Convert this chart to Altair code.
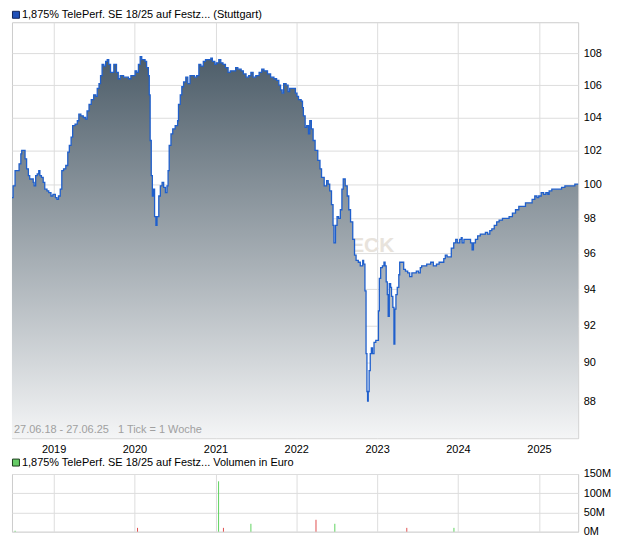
import altair as alt
import pandas as pd
import numpy as np

# ---- data (decimal years, price in %) ----
price_years = [
    2018.486, 2018.500, 2018.524, 2018.552, 2018.573, 2018.594, 2018.606, 2018.626, 2018.646, 2018.667,
    2018.687, 2018.704, 2018.728, 2018.748, 2018.760, 2018.777, 2018.796, 2018.817, 2018.829, 2018.850,
    2018.870, 2018.890, 2018.918, 2018.939, 2018.967, 2018.991, 2019.021, 2019.040, 2019.061, 2019.082,
    2019.101, 2019.122, 2019.150, 2019.174, 2019.195, 2019.216, 2019.235, 2019.265, 2019.293, 2019.313,
    2019.338, 2019.366, 2019.394, 2019.415, 2019.439, 2019.467, 2019.496, 2019.521, 2019.540, 2019.561,
    2019.582, 2019.601, 2019.622, 2019.643, 2019.662, 2019.683, 2019.704, 2019.723, 2019.744, 2019.760,
    2019.777, 2019.801, 2019.826, 2019.845, 2019.866, 2019.899, 2019.927, 2019.955, 2019.988, 2020.009,
    2020.028, 2020.049, 2020.070, 2020.089, 2020.110, 2020.130, 2020.150, 2020.171, 2020.183, 2020.195,
    2020.207, 2020.220, 2020.235, 2020.248, 2020.265, 2020.280, 2020.301, 2020.321, 2020.341, 2020.362,
    2020.382, 2020.402, 2020.415, 2020.430, 2020.451, 2020.472, 2020.504, 2020.533, 2020.545, 2020.565,
    2020.585, 2020.606, 2020.634, 2020.659, 2020.687, 2020.720, 2020.740, 2020.768, 2020.796, 2020.821,
    2020.850, 2020.878, 2020.911, 2020.943, 2020.963, 2020.991, 2021.012, 2021.040, 2021.065, 2021.094,
    2021.122, 2021.155, 2021.183, 2021.223, 2021.248, 2021.277, 2021.317, 2021.345, 2021.378, 2021.411,
    2021.439, 2021.467, 2021.500, 2021.540, 2021.573, 2021.601, 2021.643, 2021.683, 2021.723, 2021.756,
    2021.784, 2021.805, 2021.826, 2021.845, 2021.874, 2021.899, 2021.918, 2021.948, 2021.967, 2021.988,
    2022.009, 2022.028, 2022.061, 2022.077, 2022.089, 2022.110, 2022.130, 2022.150, 2022.167, 2022.187,
    2022.207, 2022.232, 2022.265, 2022.293, 2022.313, 2022.345, 2022.374, 2022.394, 2022.415, 2022.435,
    2022.455, 2022.467, 2022.484, 2022.504, 2022.524, 2022.545, 2022.565, 2022.582, 2022.606, 2022.630,
    2022.650, 2022.671, 2022.699, 2022.720, 2022.740, 2022.768, 2022.793, 2022.821, 2022.833, 2022.850,
    2022.862, 2022.874, 2022.882, 2022.890, 2022.902, 2022.915, 2022.930, 2022.943, 2022.963, 2022.984,
    2023.004, 2023.016, 2023.028, 2023.045, 2023.065, 2023.085, 2023.098, 2023.113, 2023.126, 2023.138,
    2023.150, 2023.167, 2023.179, 2023.195, 2023.207, 2023.220, 2023.232, 2023.248, 2023.268, 2023.280,
    2023.309, 2023.329, 2023.350, 2023.378, 2023.402, 2023.430, 2023.460, 2023.484, 2023.512, 2023.533,
    2023.552, 2023.582, 2023.613, 2023.646, 2023.662, 2023.695, 2023.735, 2023.768, 2023.796, 2023.826,
    2023.845, 2023.866, 2023.899, 2023.918, 2023.948, 2023.972, 2023.991, 2024.021, 2024.040, 2024.052,
    2024.073, 2024.101, 2024.130, 2024.155, 2024.174, 2024.191, 2024.216, 2024.244, 2024.277, 2024.305,
    2024.338, 2024.366, 2024.394, 2024.418, 2024.448, 2024.479, 2024.509, 2024.549, 2024.589, 2024.630,
    2024.671, 2024.711, 2024.752, 2024.793, 2024.833, 2024.874, 2024.915, 2024.948, 2024.976, 2024.996,
    2025.028, 2025.057, 2025.085, 2025.110, 2025.126, 2025.159, 2025.199, 2025.240, 2025.280, 2025.321,
    2025.362, 2025.402, 2025.443, 2025.485,
]
price_values = [
    99.2, 99.9, 100.8, 100.8, 101.2, 101.8, 102.0, 102.0, 101.5, 100.9,
    100.5, 100.3, 100.3, 100.1, 99.9, 100.5, 100.6, 100.8, 100.5, 100.4,
    100.1, 99.7, 99.6, 99.5, 99.3, 99.4, 99.2, 99.1, 99.3, 99.7,
    100.8, 100.9, 101.1, 101.9, 102.3, 102.8, 103.5, 103.6, 103.8, 104.2,
    104.1, 104.0, 103.9, 104.4, 104.8, 105.1, 105.4, 105.3, 105.8, 106.1,
    106.6, 107.3, 107.2, 107.5, 107.6, 107.3, 106.8, 106.8, 107.3, 107.3,
    106.8, 106.4, 106.6, 106.6, 106.5, 106.5, 106.4, 106.6, 106.6, 106.9,
    106.8, 107.3, 107.8, 107.6, 107.6, 107.5, 107.1, 106.6, 105.4, 102.6,
    100.5, 99.3, 99.7, 98.1, 97.6, 98.1, 99.3, 99.9, 100.1, 99.8,
    99.5, 99.9, 100.8, 102.3, 103.0, 103.3, 103.5, 103.8, 104.8, 105.4,
    105.9, 106.2, 106.5, 106.1, 106.6, 106.6, 106.5, 106.6, 107.3, 107.2,
    107.5, 107.6, 107.6, 107.7, 107.5, 107.3, 107.4, 107.6, 107.4, 107.3,
    107.1, 106.8, 106.9, 106.9, 107.1, 107.0, 106.9, 106.7, 106.5, 106.6,
    106.8, 106.5, 106.6, 106.8, 107.0, 106.9, 106.7, 106.5, 106.4, 106.3,
    106.0, 105.7, 105.5, 106.1, 106.0, 105.6, 105.8, 105.8, 105.8, 105.5,
    105.3, 105.1, 105.0, 104.6, 104.1, 103.4, 103.5, 103.0, 103.8, 103.3,
    102.6, 102.0, 101.4, 100.9, 100.4, 99.9, 100.2, 100.0, 99.6, 98.8,
    97.6, 96.6, 97.6, 98.1, 98.0, 98.5, 99.7, 100.3, 99.9, 99.3,
    98.5, 97.8, 96.8, 95.9, 95.6, 95.5, 95.3, 95.6, 95.4, 93.9,
    90.5, 88.5, 88.0, 88.5, 89.6, 90.5, 90.8, 90.5, 91.1, 91.2,
    91.2, 92.8, 94.6, 95.2, 95.3, 95.5, 95.3, 94.4, 93.7, 92.5,
    94.3, 94.1, 93.6, 93.0, 91.0, 92.9, 93.7, 94.1, 94.8, 95.5,
    95.5, 95.1, 95.0, 94.9, 94.7, 94.9, 94.9, 95.0, 94.9, 95.2,
    95.3, 95.3, 95.4, 95.4, 95.5, 95.3, 95.4, 95.5, 95.5, 95.7,
    95.9, 95.8, 95.8, 96.3, 96.6, 96.8, 96.6, 96.8, 96.9, 96.6,
    96.8, 96.8, 96.8, 96.6, 96.2, 96.6, 96.8, 97.0, 97.1, 97.1,
    97.2, 97.1, 97.3, 97.4, 97.6, 97.8, 97.9, 98.0, 98.0, 98.1,
    98.3, 98.5, 98.7, 98.7, 98.9, 98.9, 99.1, 99.3, 99.2, 99.3,
    99.5, 99.4, 99.5, 99.4, 99.6, 99.7, 99.7, 99.7, 99.8, 99.9,
    99.9, 99.9, 100.0, 100.0,
]

vol_years = [2018.524, 2020.037, 2021.037, 2021.098, 2021.439, 2022.244, 2022.476, 2023.366, 2023.951]
vol_values = [2.5, 10, 131, 10, 20.6, 31, 20.6, 10, 10]  # million EUR
vol_dir = ["up", "down", "up", "down", "up", "down", "up", "down", "up"]

year_ticks = [2019, 2020, 2021, 2022, 2023, 2024, 2025]
price_ticks = [88, 90, 92, 94, 96, 98, 100, 102, 104, 106, 108]
vol_ticks = [0, 50, 100, 150]
price_floor = 86.1
price_top = 110.0

title_price = "1,875% TelePerf. SE 18/25 auf Festz... (Stuttgart)"
title_vol = "1,875% TelePerf. SE 18/25 auf Festz... Volumen in Euro"
footnote = "27.06.18 - 27.06.25\u00a0\u00a0\u00a01 Tick = 1 Woche"


def to_date(y):
    yi = int(np.floor(y))
    start = pd.Timestamp(year=yi, month=1, day=1)
    end = pd.Timestamp(year=yi + 1, month=1, day=1)
    return (start + (end - start) * (y - yi)).round("D")


price_df = pd.DataFrame({"date": [to_date(y) for y in price_years], "price": price_values})
vol_df = pd.DataFrame({"date": [to_date(y) for y in vol_years], "vol": vol_values, "dir": vol_dir})

W, H1, H2 = 569, 418, 58
FONT = "Liberation Sans"
x_domain = [alt.DateTime(year=2018, month=6, date=27), alt.DateTime(year=2025, month=6, date=27)]
x_ticks = [alt.DateTime(year=y, month=1, date=1) for y in year_ticks]

x_price = alt.X("date:T", scale=alt.Scale(domain=x_domain),
                axis=alt.Axis(values=x_ticks, format="%Y", title=None, ticks=False, domain=False,
                              labelPadding=5, grid=True, gridColor="#dddddd", labelFontSize=11,
                              labelColor="#000000", labelFont=FONT))
y_price = alt.Y("price:Q", scale=alt.Scale(type="log", domain=[price_floor, price_top], nice=False),
                axis=alt.Axis(orient="right", values=price_ticks, title=None, ticks=False, domain=False,
                              labelPadding=5, grid=True, gridColor="#dddddd", labelFontSize=11,
                              labelColor="#000000", labelFont=FONT))

gradient = alt.Gradient(
    gradient="linear",
    stops=[alt.GradientStop(color="#4d5d69", offset=0),
           alt.GradientStop(color="#f4f5f6", offset=1)],
    x1=0, x2=0, y1=0, y2=1,
)

deco = pd.DataFrame({"k": [0]})

watermark = alt.Chart(deco).mark_text(
    text="ECK", font=FONT, fontSize=21, fontWeight="bold", color="#e8e3dc", align="center", baseline="middle"
).encode(x=alt.value(362), y=alt.value(225))

area = alt.Chart(price_df).mark_area(fill=gradient, interpolate="step-after").encode(
    x=x_price, y=y_price, y2=alt.datum(price_floor)
)
line = alt.Chart(price_df).mark_line(color="#1f5fcc", strokeWidth=1.3, interpolate="step-after").encode(
    x="date:T", y="price:Q"
)
foot = alt.Chart(deco).mark_text(
    text=footnote, font=FONT, fontSize=11, color="#a0a0a0", align="left", baseline="middle"
).encode(x=alt.value(2), y=alt.value(H1 - 8))
sq1 = alt.Chart(deco).mark_rect(fill="#1f50b8", stroke="#10235a", strokeWidth=1).encode(
    x=alt.value(0.5), x2=alt.value(7.5), y=alt.value(-11), y2=alt.value(-4)
)
tx1 = alt.Chart(deco).mark_text(
    text=title_price, font=FONT, fontSize=11, color="#000000", align="left", baseline="middle"
).encode(x=alt.value(10), y=alt.value(-7))

price_chart = alt.layer(watermark, area, line, foot, sq1, tx1).properties(width=W, height=H1)

x_vol = alt.X("date:T", scale=alt.Scale(domain=x_domain),
              axis=alt.Axis(values=x_ticks, labels=False, ticks=False, domain=False, title=None,
                            grid=True, gridColor="#dddddd"))
y_vol = alt.Y("vol:Q", scale=alt.Scale(domain=[0, 150], nice=False),
              axis=alt.Axis(orient="right", values=vol_ticks, labelExpr="datum.value + 'M'", title=None,
                            ticks=False, domain=False, labelPadding=5, grid=True, gridColor="#dddddd",
                            labelFontSize=11, labelColor="#000000", labelFont=FONT))
bars = alt.Chart(vol_df).mark_rule(strokeWidth=1).encode(
    x=x_vol, y=y_vol, y2=alt.datum(0),
    color=alt.Color("dir:N", scale=alt.Scale(domain=["up", "down"], range=["#5fd35f", "#e05050"]), legend=None),
)
sq2 = alt.Chart(deco).mark_rect(fill="#66cc66", stroke="#1d3d1d", strokeWidth=1).encode(
    x=alt.value(0.5), x2=alt.value(7.5), y=alt.value(-15), y2=alt.value(-8)
)
tx2 = alt.Chart(deco).mark_text(
    text=title_vol, font=FONT, fontSize=11, color="#000000", align="left", baseline="middle"
).encode(x=alt.value(10), y=alt.value(-11))
vol_chart = alt.layer(bars, sq2, tx2).properties(width=W, height=H2)

chart = alt.vconcat(price_chart, vol_chart, spacing=36, bounds="flush").properties(
    padding={"left": 0, "top": -1, "right": 0, "bottom": 0}
).configure(font=FONT).configure_view(stroke="#cccccc", strokeWidth=1)

chart.save("out.html", embed_options={"renderer": "svg", "actions": False})
